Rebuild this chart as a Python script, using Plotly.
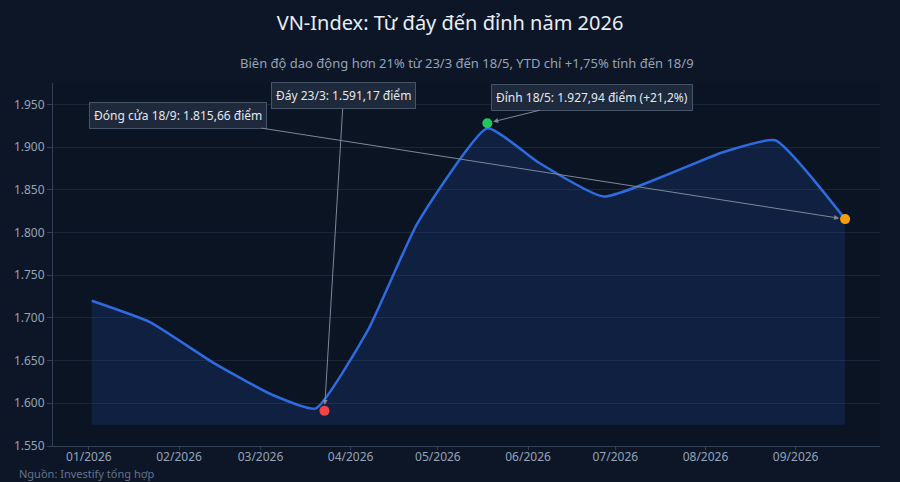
# VN-Index 2026 chart
from plotly.graph_objects import Figure, Scatter

# data
dates = [
    '2026-01-02', '2026-01-22', '2026-02-13', '2026-03-05', '2026-03-20',
    '2026-04-07', '2026-04-24', '2026-05-18', '2026-06-05', '2026-06-27',
    '2026-08-07', '2026-08-25', '2026-09-18',
]
vnindex = [
    1720, 1695, 1647, 1610, 1594,
    1686, 1811, 1922, 1881, 1842,
    1894, 1908, 1815.66,
]
fill_floor = 1575

bottom_date, bottom_value = '2026-03-23', 1591.17
peak_date, peak_value = '2026-05-18', 1927.94
close_date, close_value = '2026-09-18', 1815.66

title_text = 'VN-Index: Từ đáy đến đỉnh năm 2026'
subtitle_text = 'Biên độ dao động hơn 21% từ 23/3 đến 18/5, YTD chỉ +1,75% tính đến 18/9'
source_text = 'Nguồn: Investify tổng hợp'

## colors
bg = '#0d1626'
plot_bg = '#0b1423'
line_blue = '#2f6be0'
muted = '#94a3b8'
grid = '#1b2638'
axis_c = '#334155'

fig = Figure()

## baseline for the fill
fig.add_trace(Scatter(
    x=dates, y=[fill_floor] * len(dates), mode='lines',
    line=dict(width=0, color='rgba(0,0,0,0)'), hoverinfo='skip', showlegend=False,
))
## main line
fig.add_trace(Scatter(
    x=dates, y=vnindex, mode='lines', name='VN-Index',
    line=dict(color=line_blue, width=2.5, shape='spline', smoothing=0.45),
    fill='tonexty', fillcolor='rgba(37,99,235,0.15)', showlegend=False,
))
## markers
for d, v, c in [(bottom_date, bottom_value, '#ef4444'),
                (peak_date, peak_value, '#22c55e'),
                (close_date, close_value, '#f59e0b')]:
    fig.add_trace(Scatter(x=[d], y=[v], mode='markers',
                          marker=dict(size=10, color=c), showlegend=False))

box = dict(
    font=dict(size=12, color='#e2e8f0'),
    bgcolor='#1e293b', bordercolor='#475569', borderwidth=1, borderpad=4,
    showarrow=True, arrowhead=2, arrowsize=1, arrowwidth=1, arrowcolor='#7c8799',
    standoff=6, xref='x', yref='y',
)
annotations = [
    dict(x=close_date, y=close_value, text='Đóng cửa 18/9: 1.815,66 điểm', ax=-667, ay=-104, **box),
    dict(x=bottom_date, y=bottom_value, text='Đáy 23/3: 1.591,17 điểm', ax=19, ay=-315, **box),
    dict(x=peak_date, y=peak_value, text='Đỉnh 18/5: 1.927,94 điểm (+21,2%)', ax=105, ay=-26, **box),
    dict(x=0.5, y=1.055, xref='paper', yref='paper', yanchor='middle', text=subtitle_text,
         showarrow=False, font=dict(size=13, color=muted)),
    dict(x=-0.043, y=-0.077, xref='paper', yref='paper', xanchor='left', yanchor='middle',
         text=source_text, showarrow=False, font=dict(size=11, color='#64748b')),
]

fig.update_layout(dict(
    title=dict(
        text=title_text, x=0.5, xanchor='center', y=0.952, yanchor='middle',
        font=dict(size=20, color='#e8edf5'),
    ),
    font=dict(family='Noto Sans', color=muted),
    separators=',.',
    paper_bgcolor=bg,
    plot_bgcolor=plot_bg,
    xaxis=dict(
        range=['2025-12-19 16:00', '2026-09-30'],
        dtick='M1', tick0='2026-01-01', tickformat='%m/%Y',
        showgrid=False, showline=True, linecolor=axis_c,
        ticks='outside', ticklen=3, tickcolor=axis_c,
        ticklabelstandoff=-3,
        tickfont=dict(size=12, color=muted),
    ),
    yaxis=dict(
        range=[1550, 1975], dtick=50, tick0=1550, tickformat=',.0f',
        gridcolor=grid, showline=True, linecolor=axis_c, zeroline=False,
        ticks='outside', ticklen=5, tickcolor=axis_c,
        tickfont=dict(size=12, color=muted),
    ),
    annotations=annotations,
    margin=dict(l=53, r=20, t=83, b=36),
    width=900,
    height=482,
))

## drop the page margin so the figure sits at the top-left corner
fig.write_html(
    'out.html',
    config=dict(displayModeBar=False),
    post_script="document.body.style.margin='0';document.body.style.background='#0d1626';",
)
